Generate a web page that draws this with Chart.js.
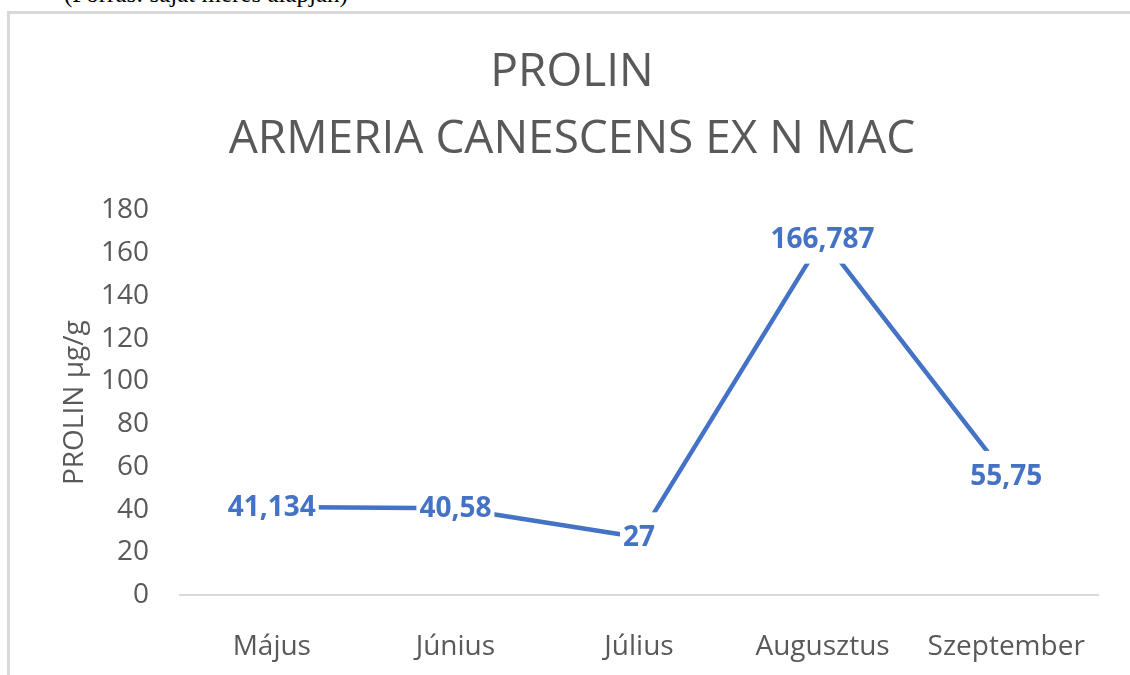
<!DOCTYPE html>
<html>
<head>
<meta charset="utf-8">
<script src="https://cdn.jsdelivr.net/npm/chart.js@4"></script>
<style>
  html, body { margin: 0; padding: 0; background: #fff; overflow: hidden; }
  body { width: 1130px; height: 675px; position: relative; }
  #source {
    position: absolute; left: 64px; top: -19px;
    font: 25px/1 "Liberation Serif", serif; color: #000; white-space: nowrap;
  }
  #frame {
    position: absolute; left: 7px; top: 11px; width: 1200px; height: 720px;
    border: 3px solid #d9d9d9; box-sizing: border-box;
  }
  #chart { position: absolute; left: 0; top: 0; }
</style>
</head>
<body>
<div id="source">(Forrás: saját mérés alapján)</div>
<div id="frame"></div>
<canvas id="chart" width="1130" height="675"></canvas>
<script>
// chart data
const months = ['Május', 'Június', 'Július', 'Augusztus', 'Szeptember']
const prolin = [41.134, 40.58, 27, 166.787, 55.75]
const titleLines = ['PROLIN', 'ARMERIA CANESCENS EX N MAC']
const yTitle = 'PROLIN µg/g'
const yMin = 0
const yMax = 180
const yStep = 20

const blue = '#4472C4'
const grey = '#595959'
const font = '"Open Sans", "Noto Sans", sans-serif'

// value labels on a white box, centered on each point (like Excel's data labels)
const valueLabels = {
    id: 'valueLabels',
    afterDatasetsDraw(chart) {
        const ctx = chart.ctx
        const meta = chart.getDatasetMeta(0)
        ctx.save()
        ctx.font = `bold 28px ${font}`
        ctx.textAlign = 'center'
        ctx.textBaseline = 'middle'
        meta.data.forEach((pt, i) => {
            const text = String(prolin[i]).replace('.', ',')
            const w = ctx.measureText(text).width + 6
            const h = 50
            ctx.fillStyle = '#fff'
            ctx.fillRect(pt.x - w / 2, pt.y - h / 2, w, h)
            ctx.fillStyle = blue
            ctx.fillText(text, pt.x, pt.y + 1)
        })
        ctx.restore()
    }
}

new Chart(document.getElementById('chart'), {
    type: 'line',
    data: {
        labels: months,
        datasets: [{
            data: prolin,
            borderColor: blue,
            borderWidth: 4.5,
            pointRadius: 0,
            tension: 0,
            fill: false
        }]
    },
    options: {
        responsive: false,
        animation: false,
        layout: { padding: { top: 26, left: 46, right: 32, bottom: 11 } },
        plugins: {
            legend: { display: false },
            tooltip: { enabled: false },
            title: {
                display: true,
                text: titleLines,
                color: grey,
                font: { family: font, size: 46, weight: 400, lineHeight: 1.45 },
                padding: { top: 14, bottom: 37 }
            }
        },
        scales: {
            x: {
                offset: true,
                grid: { display: false, drawTicks: false },
                border: { display: true, color: '#d9d9d9', width: 2 },
                ticks: { color: grey, font: { family: font, size: 28 }, padding: 35, maxRotation: 0 },
                afterFit(scale) { scale.height = 69 }
            },
            y: {
                min: yMin,
                max: yMax,
                grid: { display: false, drawTicks: false },
                border: { display: false },
                ticks: { stepSize: yStep, color: grey, font: { family: font, size: 28 }, padding: 31 },
                title: {
                    display: true,
                    text: yTitle,
                    color: grey,
                    font: { family: font, size: 28 },
                    padding: { top: 12, bottom: 0 }
                },
                afterFit(scale) { scale.width = 134 }
            }
        }
    },
    plugins: [valueLabels]
})
</script>
</body>
</html>
